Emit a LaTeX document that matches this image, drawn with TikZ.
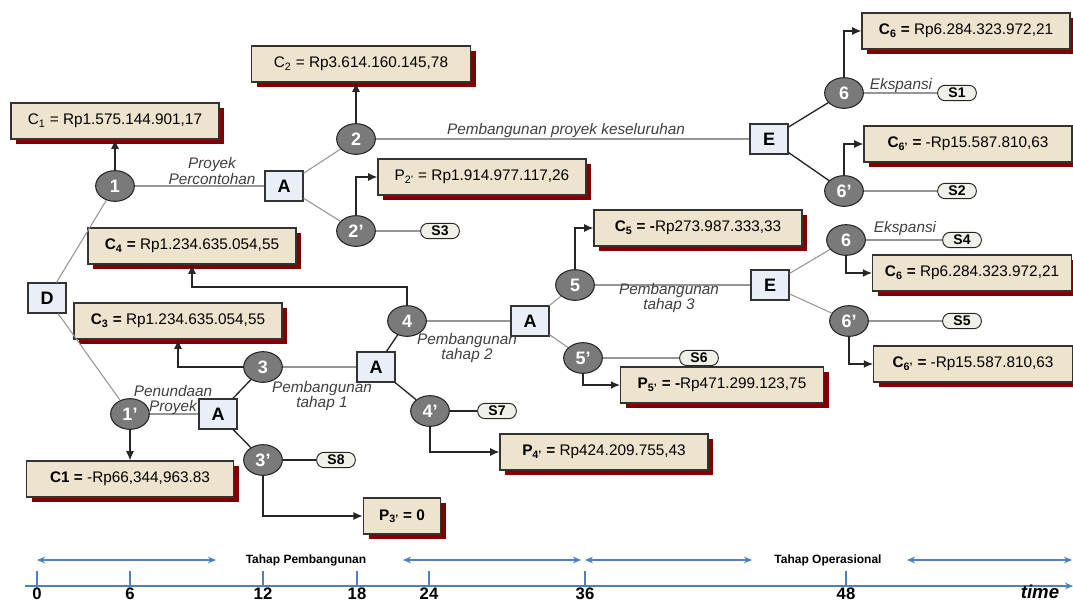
\documentclass[tikz,border=0pt]{standalone}
\usepackage{fontspec}
\setmainfont{Liberation Sans}
\usetikzlibrary{shapes.geometric,shadows,arrows.meta}

\definecolor{payfill}{RGB}{238,228,206}
\definecolor{payshadow}{RGB}{128,0,0}
\definecolor{decfill}{RGB}{233,238,247}
\definecolor{chancefill}{RGB}{122,122,122}
\definecolor{endfill}{RGB}{240,240,232}
\definecolor{linegray}{RGB}{150,150,150}
\definecolor{timeblue}{RGB}{79,129,189}

\tikzset{
	decision/.style={rectangle, draw=black!80, fill=decfill, line width=0.8pt, minimum width=28.5pt, minimum height=22.5pt, inner sep=0pt, font=\bfseries\fontsize{13.5}{13.5}\selectfont},
	chance/.style={ellipse, draw=black!85, fill=chancefill, line width=0.8pt, minimum width=29pt, minimum height=23pt, inner sep=0pt, text=white, font=\bfseries\fontsize{13.5}{13.5}\selectfont},
	payoff/.style={rectangle, draw=black!80, fill=payfill, line width=0.8pt, minimum width=156pt, minimum height=27pt, inner sep=2pt, font=\fontsize{11.5}{13}\selectfont,
		drop shadow={shadow xshift=4pt, shadow yshift=-4pt, fill=payshadow, opacity=1}},
	outcome/.style={rectangle, rounded corners=5.5pt, draw=black!85, fill=endfill, line width=0.7pt, minimum width=29pt, minimum height=11.5pt, inner sep=0pt, font=\bfseries\fontsize{10.5}{11}\selectfont},
	branch/.style={draw=linegray, line width=0.8pt},
	darkbranch/.style={draw=black!85, line width=1pt},
	payarrow/.style={draw=black!85, line width=1.1pt, -{Latex[length=7pt,width=6pt]}},
	lbl/.style={font=\itshape\fontsize{11.5}{11.5}\selectfont, align=center, text=black!75, inner sep=0pt},
	timeline/.style={draw=timeblue, line width=0.8pt},
	span/.style={draw=timeblue, line width=0.8pt, {Stealth[length=6pt,width=5pt]}-{Stealth[length=6pt,width=5pt]}},
	ticklabel/.style={font=\bfseries\fontsize{12.5}{12.5}\selectfont, inner sep=0pt}
}

\begin{document}
\begin{tikzpicture}[x=0.75pt,y=0.75pt,yscale=-1,xscale=1]
	\useasboundingbox (0,0) rectangle (1073,603);

	%Decision nodes
	\node[decision] (D) at (47,298) {D};
	\node[decision] (A1) at (284,186) {A};
	\node[decision] (A2) at (218,414) {A};
	\node[decision] (A3) at (376,367) {A};
	\node[decision] (A4) at (530,321) {A};
	\node[decision] (E1) at (769,139) {E};
	\node[decision] (E2) at (770,285) {E};

	%Chance nodes
	\node[chance] (n1) at (115,186) {1};
	\node[chance] (n2) at (356,139) {2};
	\node[chance] (n2p) at (356,231) {2'};
	\node[chance] (n1p) at (130,414) {1'};
	\node[chance] (n3) at (263,367) {3};
	\node[chance] (n3p) at (263,460) {3'};
	\node[chance] (n4) at (407,321) {4};
	\node[chance] (n4p) at (430,411) {4'};
	\node[chance] (n5) at (575,285) {5};
	\node[chance] (n5p) at (583,358) {5'};
	\node[chance] (n6) at (844,93) {6};
	\node[chance] (n6p) at (844,191) {6'};
	\node[chance] (m6) at (846,240) {6};
	\node[chance] (m6p) at (849,321) {6'};

	%End nodes
	\node[outcome] (S1) at (957,93) {S1};
	\node[outcome] (S2) at (957,191) {S2};
	\node[outcome] (S3) at (440,231) {S3};
	\node[outcome] (S4) at (962,240) {S4};
	\node[outcome] (S5) at (962,321) {S5};
	\node[outcome] (S6) at (699,358) {S6};
	\node[outcome] (S7) at (497,411) {S7};
	\node[outcome] (S8) at (336,460) {S8};

	%Payoff boxes
	\node[payoff] (C1) at (115,121) {C\textsubscript{1} = Rp1.575.144.901,17};
	\node[payoff, minimum width=164pt] (C2) at (361,64) {C\textsubscript{2} = Rp3.614.160.145,78};
	\node[payoff] (P2) at (482,177) {P\textsubscript{2'} = Rp1.914.977.117,26};
	\node[payoff] (C4) at (192,246) {\textbf{C\textsubscript{4} =} Rp1.234.635.054,55};
	\node[payoff] (C3) at (178,321) {\textbf{C\textsubscript{3} =} Rp1.234.635.054,55};
	\node[payoff, minimum width=155pt] (C1b) at (130,479) {\textbf{C1 =} -Rp66,344,963.83};
	\node[payoff, minimum width=58pt] (P3) at (402,516) {\textbf{P\textsubscript{3'} = 0}};
	\node[payoff] (P4) at (604,452) {\textbf{P\textsubscript{4'} =} Rp424.209.755,43};
	\node[payoff, minimum width=152pt] (P5) at (722,385) {\textbf{P\textsubscript{5'} = -}Rp471.299.123,75};
	\node[payoff] (C5) at (698,228) {\textbf{C\textsubscript{5} = -}Rp273.987.333,33};
	\node[payoff] (C6) at (966,31) {\textbf{C\textsubscript{6} =} Rp6.284.323.972,21};
	\node[payoff] (C6p) at (968,144) {\textbf{C\textsubscript{6'} =} -Rp15.587.810,63};
	\node[payoff, minimum width=149pt] (D6) at (972,273) {\textbf{C\textsubscript{6} =} Rp6.284.323.972,21};
	\node[payoff, minimum width=149pt] (D6p) at (973,364) {\textbf{C\textsubscript{6'} =} -Rp15.587.810,63};

	%Branches
	\draw[branch] (D) -- (n1);
	\draw[branch] (D) -- (n1p);
	\draw[branch] (n1) -- (A1);
	\draw[branch] (A1) -- (n2);
	\draw[branch] (A1) -- (n2p);
	\draw[branch] (n2) -- (E1);
	\draw[branch] (n2p) -- (S3);
	\draw[darkbranch] (E1) -- (n6);
	\draw[darkbranch] (E1) -- (n6p);
	\draw[branch] (n6) -- (S1);
	\draw[branch] (n6p) -- (S2);
	\draw[branch] (n1p) -- (A2);
	\draw[darkbranch] (A2) -- (n3);
	\draw[darkbranch] (A2) -- (n3p);
	\draw[branch] (n3) -- (A3);
	\draw[darkbranch] (n3p) -- (S8);
	\draw[darkbranch] (A3) -- (n4);
	\draw[darkbranch] (A3) -- (n4p);
	\draw[branch] (n4) -- (A4);
	\draw[darkbranch] (n4p) -- (S7);
	\draw[branch] (A4) -- (n5);
	\draw[branch] (A4) -- (n5p);
	\draw[branch] (n5) -- (E2);
	\draw[branch] (n5p) -- (S6);
	\draw[branch] (E2) -- (m6);
	\draw[branch] (E2) -- (m6p);
	\draw[branch] (m6) -- (S4);
	\draw[branch] (m6p) -- (S5);

	%Payoff arrows
	\coordinate (c4turn) at (407,287);
	\draw[payarrow] (n1) -- (C1);
	\draw[payarrow] (n2.north) -- (n2.north |- C2.south);
	\draw[payarrow] (n2p.north) |- (P2.west);
	\draw[payarrow] (n6.north) |- (C6.west);
	\draw[payarrow] (n6p.north) |- (C6p.west);
	\draw[payarrow] (n1p) -- (C1b);
	\draw[payarrow] (n3.west) -| (C3.south);
	\draw[payarrow] (n3p.south) |- (P3.west);
	\draw[payarrow] (n4.north) -- (c4turn) -| (C4.south);
	\draw[payarrow] (n4p.south) |- (P4.west);
	\draw[payarrow] (n5.north) |- (C5.west);
	\draw[payarrow] (n5p.south) |- (P5.west);
	\draw[payarrow] (m6.south) |- (D6.west);
	\draw[payarrow] (m6p.south) |- (D6p.west);

	% Text Node
	\node[lbl] (t1) at (212,171) {Proyek\\Percontohan};
	% Text Node
	\node[lbl] (t2) at (566,131) {Pembangunan proyek keseluruhan};
	% Text Node
	\node[lbl] (t3) at (901,86) {Ekspansi};
	% Text Node
	\node[lbl] (t4) at (905,229) {Ekspansi};
	% Text Node
	\node[lbl] (t5) at (173,400) {Penundaan\\Proyek};
	% Text Node
	\node[lbl] (t6) at (322,396) {Pembangunan\\tahap 1};
	% Text Node
	\node[lbl] (t7) at (467,348) {Pembangunan\\tahap 2};
	% Text Node
	\node[lbl] (t8) at (669,298) {Pembangunan\\tahap 3};

	%Time axis
	\coordinate (ax0) at (25,586);
	\coordinate (ax1) at (1073,586);
	\draw[timeline, -{Stealth[length=6pt,width=5pt]}] (ax0) -- (ax1);
	\foreach \tx/\tl in {37/0,130/6,263/12,357/18,429/24,585/36,846/48}{
		\draw[timeline] (\tx,571) -- (\tx,586);
		\node[ticklabel] at (\tx,594) {\tl};
	}
	\node[font=\bfseries\itshape\fontsize{14}{14}\selectfont, inner sep=0pt] (tm) at (1040,592) {time};

	%Phases
	\node[font=\bfseries\fontsize{9}{10}\selectfont, inner sep=0pt] (ph1) at (306,560) {Tahap Pembangunan};
	\node[font=\bfseries\fontsize{9}{10}\selectfont, inner sep=0pt] (ph2) at (828,560) {Tahap Operasional};
	\draw[span] (37,560) -- (216,560);
	\draw[span] (403,560) -- (581,560);
	\draw[span] (585,560) -- (752,560);
	\draw[span] (907,560) -- (1072,560);

\end{tikzpicture}
\end{document}
